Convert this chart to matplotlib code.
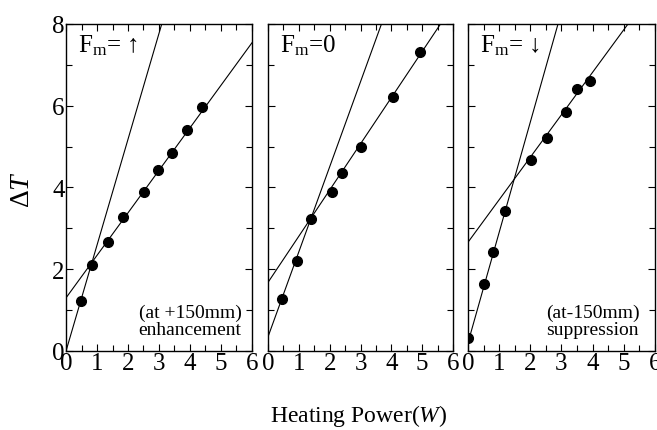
import matplotlib
matplotlib.use('Agg')
import matplotlib.pyplot as plt
from matplotlib.ticker import MultipleLocator
import numpy as np

plt.rcParams['font.family'] = ['Liberation Serif', 'DejaVu Serif']
plt.rcParams['mathtext.fontset'] = 'custom'
plt.rcParams['mathtext.rm'] = 'Liberation Serif'
plt.rcParams['mathtext.it'] = 'Liberation Serif:italic'

# measured points, one list per field direction
power_up = [0.48, 0.83, 1.34, 1.83, 2.53, 2.98, 3.41, 3.89, 4.40]
dT_up = [1.23, 2.11, 2.67, 3.27, 3.88, 4.43, 4.84, 5.41, 5.98]

power_zero = [0.46, 0.93, 1.39, 2.08, 2.40, 3.00, 4.05, 4.94]
dT_zero = [1.27, 2.19, 3.23, 3.90, 4.35, 5.00, 6.21, 7.32]

power_down = [0.01, 0.52, 0.81, 1.20, 2.02, 2.52, 3.13, 3.50, 3.90]
dT_down = [0.31, 1.64, 2.43, 3.43, 4.68, 5.22, 5.85, 6.41, 6.61]

# fitted lines (intercept, slope): steep low-power branch, shallow high-power branch
steep_fits = [(0.0, 2.59), (0.35, 2.08), (0.2, 2.70)]
shallow_fits = [(1.30, 1.04), (1.68, 1.13), (2.66, 1.04)]

titles = [r'F$_{\mathregular{m}}$= ↑', r'F$_{\mathregular{m}}$=0', r'F$_{\mathregular{m}}$= ↓']
notes = ['(at +150mm)\nenhancement', None, '(at-150mm)\nsuppression']

fig = plt.figure(figsize=(6.57, 4.31), dpi=100)
lefts = [0.1005, 0.408, 0.7123]
widths = [0.283, 0.2816, 0.2846]
bottom, height = 0.1833, 0.7587

series = [(power_up, dT_up), (power_zero, dT_zero), (power_down, dT_down)]
xs = np.linspace(0, 6, 200)

for i in range(3):
    ax = fig.add_axes([lefts[i], bottom, widths[i], height])
    px, py = series[i]
    b0, k0 = steep_fits[i]
    b1, k1 = shallow_fits[i]
    ax.plot(xs, b0 + k0 * xs, color='black', lw=0.8)
    ax.plot(xs, b1 + k1 * xs, color='black', lw=0.8)
    ax.plot(px, py, 'o', color='black', markersize=7)

    ax.set_xlim(0, 6)
    ax.set_ylim(0, 8)
    ax.xaxis.set_major_locator(MultipleLocator(1))
    ax.xaxis.set_minor_locator(MultipleLocator(0.5))
    ax.yaxis.set_major_locator(MultipleLocator(2))
    ax.yaxis.set_minor_locator(MultipleLocator(1))
    ax.tick_params(which='both', direction='in', top=True, right=True,
                   width=0.8, labelsize=18, pad=1)
    ax.tick_params(which='major', length=5)
    ax.tick_params(which='minor', length=4)
    if i > 0:
        ax.tick_params(labelleft=False)
    for sp in ax.spines.values():
        sp.set_linewidth(1.0)

    ax.text(0.4, 7.8, titles[i], fontsize=18, va='top', ha='left')
    if notes[i]:
        ax.text(4.0, 0.33, notes[i], fontsize=14, ha='center', va='bottom',
                linespacing=1.0)

fig.text(0.034, 0.56, r'$\Delta\mathit{T}$', fontsize=20, rotation=90,
         ha='center', va='center')
fig.text(0.546, 0.035, r'Heating Power($\mathit{W}$)', fontsize=17,
         ha='center', va='center')

fig.savefig('out.png', dpi=100)
